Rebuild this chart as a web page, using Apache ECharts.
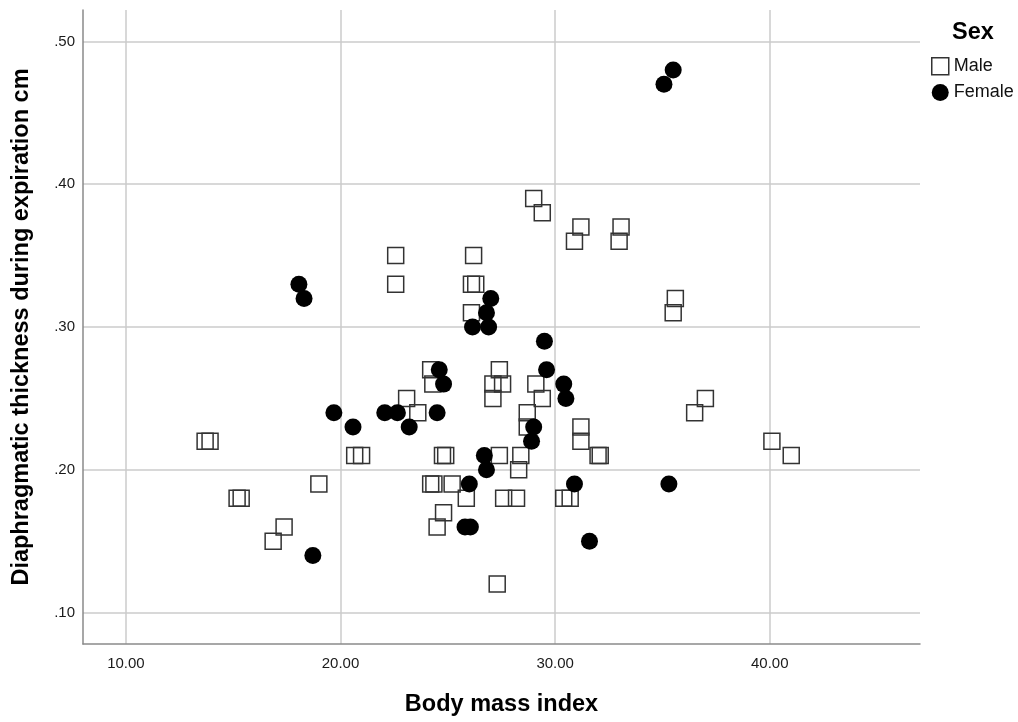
<!DOCTYPE html>
<html>
<head>
<meta charset="utf-8">
<script src="https://cdn.jsdelivr.net/npm/echarts@6/dist/echarts.min.js"></script>
<style>html,body{margin:0;padding:0;background:#fff}#c{width:1018px;height:722px}</style>
</head>
<body>
<div id="c"></div>
<script>
const xTicks = [10, 20, 30, 40];
const yTicks = [0.10, 0.20, 0.30, 0.40, 0.50];

const maleBMI = [13.69,13.92,15.18,15.37,16.86,17.37,18.99,20.66,20.98,22.57,22.57,23.08,23.6,24.2,24.3,24.2,24.35,25.2,24.75,24.9,24.8,24.5,25.86,26.2,26.1,26.3,26.1,27.4,27.1,27.55,27.1,27.4,27.6,28.2,28.4,28.3,28.7,28.7,29.1,29.4,29.0,29.4,30.9,31.2,32.98,33.07,30.4,30.7,31.2,31.2,32.0,32.1,35.6,35.5,36.5,37.0,40.1,41.0,27.3];
const maleThick = [0.22,0.22,0.18,0.18,0.15,0.16,0.19,0.21,0.21,0.35,0.33,0.25,0.24,0.27,0.26,0.19,0.19,0.19,0.21,0.21,0.17,0.16,0.18,0.35,0.33,0.33,0.31,0.27,0.26,0.26,0.25,0.21,0.18,0.18,0.21,0.20,0.24,0.23,0.26,0.25,0.39,0.38,0.36,0.37,0.36,0.37,0.18,0.18,0.23,0.22,0.21,0.21,0.32,0.31,0.24,0.25,0.22,0.21,0.12];

const femaleBMI = [18.06,18.3,18.71,19.69,20.58,22.06,22.65,23.2,24.5,24.6,24.8,26.0,25.8,26.05,26.15,26.9,26.8,27.0,26.7,26.8,29.0,28.9,29.5,29.6,30.4,30.5,30.9,31.6,35.07,35.5,35.3];
const femaleThick = [0.33,0.32,0.14,0.24,0.23,0.24,0.24,0.23,0.24,0.27,0.26,0.19,0.16,0.16,0.30,0.30,0.31,0.32,0.21,0.20,0.23,0.22,0.29,0.27,0.26,0.25,0.19,0.15,0.47,0.48,0.19];

const seriesNames = ['Male', 'Female'];
const legendTitle = 'Sex';
const xTitle = 'Body mass index';
const yTitle = 'Diaphragmatic thickness during expiration cm';

const zip = (a, b) => a.map((v, i) => [v, b[i]]);
const FONT = 'Liberation Sans, Arial, sans-serif';

const chart = echarts.init(document.getElementById('c'), null, {renderer: 'canvas'});
chart.setOption({
  animation: false,
  backgroundColor: '#fff',
  grid: {left: 83, top: 10, right: 98, bottom: 78, containLabel: false, outerBoundsMode: 'none'},
  graphic: [{
    type: 'text', left: 952, top: 21,
    style: {text: legendTitle, font: 'bold 23.5px ' + FONT, fill: '#000'}
  }],
  legend: {
    orient: 'vertical', left: 926, top: 52,
    itemWidth: 17, itemHeight: 17, itemGap: 8,
    textStyle: {fontFamily: FONT, fontSize: 18, color: '#111'},
    data: [
      {name: seriesNames[0], icon: 'rect', itemStyle: {color: '#fff', borderColor: '#333', borderWidth: 1.5}},
      {name: seriesNames[1], icon: 'circle', itemStyle: {color: '#000'}}
    ]
  },
  xAxis: {
    type: 'value', min: 8, max: 47,
    name: xTitle, nameLocation: 'middle', nameGap: 49,
    nameTextStyle: {fontFamily: FONT, fontSize: 23.5, fontWeight: 'bold', color: '#000'},
    axisLine: {show: true, onZero: false, lineStyle: {color: '#8a8a8a', width: 1.5}},
    axisTick: {show: false, customValues: xTicks},
    axisLabel: {customValues: xTicks, margin: 12, fontFamily: FONT, fontSize: 15, color: '#1a1a1a',
      formatter: v => v.toFixed(2)},
    splitLine: {show: true, lineStyle: {color: '#cbcbcb', width: 1.5}}
  },
  yAxis: {
    type: 'value', min: 0.078, max: 0.522,
    name: yTitle, nameLocation: 'middle', nameGap: 49,
    nameTextStyle: {fontFamily: FONT, fontSize: 23.5, fontWeight: 'bold', color: '#000'},
    axisLine: {show: true, onZero: false, lineStyle: {color: '#8a8a8a', width: 1.5}},
    axisTick: {show: false, customValues: yTicks},
    axisLabel: {customValues: yTicks, margin: 8, fontFamily: FONT, fontSize: 15, color: '#1a1a1a',
      formatter: v => v.toFixed(2).replace(/^0/, '')},
    splitLine: {show: true, lineStyle: {color: '#cbcbcb', width: 1.5}}
  },
  series: [
    {
      name: seriesNames[0], type: 'scatter', symbol: 'rect', symbolSize: 16,
      itemStyle: {color: 'rgba(255,255,255,0)', borderColor: '#333', borderWidth: 1.5, opacity: 1},
      data: zip(maleBMI, maleThick)
    },
    {
      name: seriesNames[1], type: 'scatter', symbol: 'circle', symbolSize: 17,
      itemStyle: {color: '#000', opacity: 1},
      data: zip(femaleBMI, femaleThick)
    }
  ]
});
</script>
</body>
</html>
